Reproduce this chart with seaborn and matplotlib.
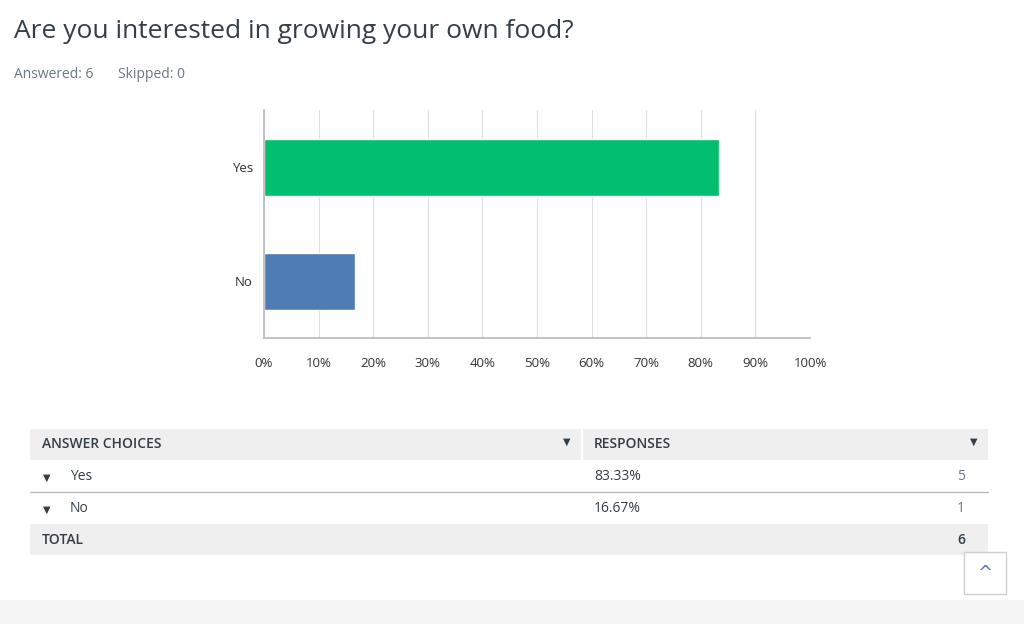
import matplotlib
matplotlib.use("Agg")
import matplotlib.pyplot as plt
import seaborn as sns
import pandas as pd
from matplotlib.patches import Rectangle

categories = ["Yes", "No"]
percents = [83.33, 16.67]
counts = [5, 1]
colors = ["#00bf6f", "#507cb6"]
ticks = [0, 10, 20, 30, 40, 50, 60, 70, 80, 90, 100]
title = "Are you interested in growing your own food?"

sns.set_theme(style="white")
plt.rcParams['font.family'] = ['Open Sans', 'DejaVu Sans']

W, H = 1024, 624
fig = plt.figure(figsize=(W/100, H/100), dpi=100)
fig.patch.set_facecolor("white")

def fx(x): return x / W
def fy(y): return 1 - y / H

ax = fig.add_axes([fx(264), fy(338), 546/W, 228/H])
df = pd.DataFrame({"cat": categories, "pct": percents})
sns.barplot(data=df, y="cat", x="pct", hue="cat", palette=colors, legend=False,
            width=0.5, ax=ax, saturation=1)
ax.set_xlim(0, 100)
ax.set_ylim(1.5, -0.5)
ax.set_xticks(ticks)
ax.set_xticklabels([f"{t}%" for t in ticks], fontsize=9.5, color="#333333")
ax.tick_params(axis="x", length=0, pad=14)
ax.tick_params(axis="y", length=0, labelsize=9.5, labelcolor="#333333", pad=8)
ax.set_xlabel(""); ax.set_ylabel("")
ax.grid(axis="x", color="#e0e0e0", linewidth=0.8)
ax.set_axisbelow(True)
for s in ["top", "right"]:
    ax.spines[s].set_visible(False)
for s in ["left", "bottom"]:
    ax.spines[s].set_color("#bbbbbb")

fig.text(fx(14), fy(31), title, fontsize=19, color="#333e48", va="center")
fig.text(fx(14), fy(74), "Answered: 6", fontsize=10, color="#6b787f", va="center")
fig.text(fx(118), fy(74), "Skipped: 0", fontsize=10, color="#6b787f", va="center")

def rect(x0, y0, x1, y1, fc, ec="none"):
    fig.add_artist(Rectangle((fx(x0), fy(y1)), fx(x1)-fx(x0), fy(y0)-fy(y1),
                             transform=fig.transFigure, facecolor=fc, edgecolor=ec, lw=1))

rect(30, 429, 988, 460, "#efefef")
fig.add_artist(Rectangle((fx(581), fy(460)), 1/W, 31/H, transform=fig.transFigure, facecolor="white"))
fig.text(fx(42), fy(444), "ANSWER CHOICES", fontsize=10, color="#333e48", va="center", weight="semibold")
fig.text(fx(594), fy(444), "RESPONSES", fontsize=10, color="#333e48", va="center", weight="semibold")
fig.text(fx(567), fy(442), "▼", fontsize=7, color="#333e48", va="center", ha="center", family="DejaVu Sans")
fig.text(fx(974), fy(442), "▼", fontsize=7, color="#333e48", va="center", ha="center", family="DejaVu Sans")

rows_y = [476, 508]
for y, c, p, n in zip(rows_y, categories, percents, counts):
    fig.text(fx(47), fy(y+2), "▼", fontsize=7, color="#333e48", va="center", ha="center", family="DejaVu Sans")
    fig.text(fx(70), fy(y), c, fontsize=10, color="#333e48", va="center")
    fig.text(fx(594), fy(y), f"{p:.2f}%", fontsize=10, color="#333e48", va="center")
    fig.text(fx(965), fy(y), str(n), fontsize=10, color="#6b787f", va="center", ha="right")
fig.add_artist(plt.Line2D([fx(30), fx(988)], [fy(492), fy(492)], transform=fig.transFigure, color="#bbbbbb", lw=1))
rect(30, 524, 988, 555, "#efefef")
fig.text(fx(42), fy(540), "TOTAL", fontsize=10, color="#333e48", va="center", weight="semibold")
fig.text(fx(965), fy(540), str(sum(counts)), fontsize=10, color="#333e48", va="center", ha="right", weight="semibold")

rect(0, 600, 1024, 624, "#f5f5f5")
rect(964, 552, 1006, 594, "white", "#d0d0d0")
fig.text(fx(985), fy(573), "^", fontsize=13, color="#507cb6", va="center", ha="center", family="DejaVu Sans")

fig.savefig("out.png", dpi=100)
